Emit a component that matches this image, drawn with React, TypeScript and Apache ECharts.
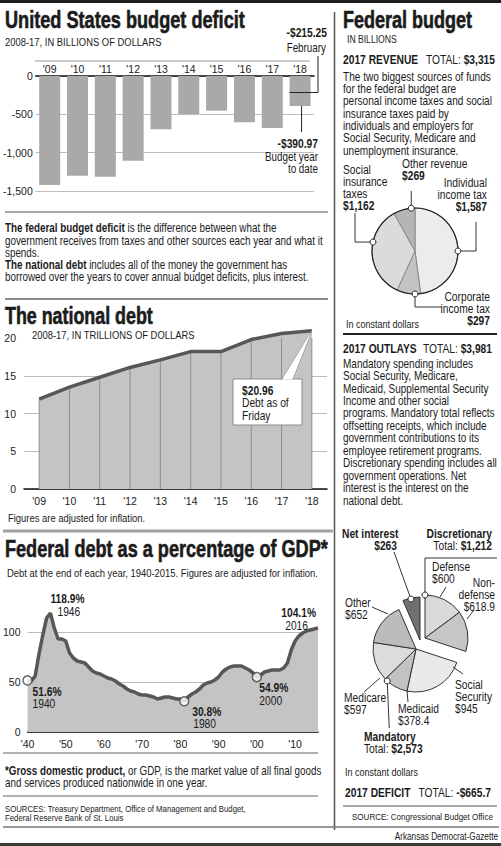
import React, { useEffect, useRef } from "react";
import * as echarts from "echarts";

// ---------------- DATA ----------------
const deficitYears = ["'09", "'10", "'11", "'12", "'13", "'14", "'15", "'16", "'17", "'18"];
const deficitValues = [-1422, -1300, -1313, -1104, -696, -496, -452, -604, -678, -390.97];
const deficitFebruary = -215.25;
const deficitTicks = { min: -1500, max: 0, step: 500 };

const debtYears = ["'09", "'10", "'11", "'12", "'13", "'14", "'15", "'16", "'17", "'18"];
const debtValues = [11.9, 13.5, 14.8, 16.1, 17.1, 18.2, 18.2, 19.8, 20.6, 20.96];
const debtTicks = { min: 0, max: 20, step: 5 };

const gdpPoints: [number, number][] = [
  [1940, 51.6], [1941, 51], [1942, 56], [1943, 78], [1944, 97], [1945, 114], [1946, 118.9],
  [1947, 104], [1948, 93], [1949, 93], [1950, 91], [1951, 79], [1952, 74], [1953, 71],
  [1954, 70], [1955, 69], [1956, 65], [1957, 61], [1958, 59], [1959, 58], [1960, 56],
  [1961, 54], [1962, 53], [1963, 51], [1964, 48], [1965, 46], [1966, 43], [1967, 41],
  [1968, 40], [1969, 38], [1970, 37], [1971, 37], [1972, 36], [1973, 35], [1974, 33],
  [1975, 34], [1976, 35], [1977, 35], [1978, 34], [1979, 33], [1980, 33], [1981, 30.8],
  [1982, 35], [1983, 38], [1984, 40], [1985, 43], [1986, 47], [1987, 49], [1988, 50],
  [1989, 52], [1990, 55], [1991, 60], [1992, 63], [1993, 65], [1994, 66], [1995, 66],
  [1996, 66], [1997, 64], [1998, 62], [1999, 59], [2000, 54.9], [2001, 57], [2002, 60],
  [2003, 61], [2004, 62], [2005, 62], [2006, 62], [2007, 64], [2008, 69], [2009, 82],
  [2010, 91], [2011, 96], [2012, 99], [2013, 101], [2014, 102], [2015, 103], [2016, 104.1],
];
const gdpNotePoints: [number, number][] = [[1940, 51.6], [1946, 118.9], [1981, 30.8], [2000, 54.9], [2016, 104.1]];
const gdpNoteYears = ["1940", "1946", "1980", "2000", "2016"];
const gdpXTicks = { min: 1940, max: 2016, step: 10 };
const gdpYTicks = { min: 0, max: 100, step: 50 };

const revenueNames = ["Individual income tax", "Corporate income tax", "Social insurance taxes", "Other revenue"];
const revenueLabelLines = [["Individual", "income tax"], ["Corporate", "income tax"], ["Social", "insurance", "taxes"], ["Other revenue"]];
const revenueValues = [1587, 297, 1162, 269];
const revenueTotal = 3315;

const outlayNames = ["Defense", "Non-defense", "Social Security", "Medicaid", "Medicare", "Other", "Net interest"];
const outlayLabelLines = [["Defense"], ["Non-", "defense"], ["Social", "Security"], ["Medicaid"], ["Medicare"], ["Other"], ["Net interest"]];
const outlayValues = [600, 618.9, 945, 378.4, 597, 652, 263];
const outlayGroups = ["disc", "disc", "mand", "mand", "mand", "mand", "int"];
const outlaysTotal = 3981;
const mandatoryTotal = 2573;
const discretionaryTotal = 1212;
const deficitTotal = -665.7;

// ---------------- STYLE ----------------
const FONT = '"Liberation Sans", Arial, Helvetica, sans-serif';
const COND = 0.82; // narrow look: Arial metrics condensed horizontally
const INK = "#1b1b1b";
const revenueColors = ["#ececec", "#c3c3c3", "#dbdbdb", "#b5b5b5"];
const outlayColors = ["#d9d9d9", "#c6c6c6", "#e9e9e9", "#c2c2c2", "#dcdcdc", "#bcbcbc", "#707070"];

const fmtMoney = (v: number) => {
  const s = "$" + Math.abs(v).toLocaleString("en-US", { maximumFractionDigits: 2 });
  return v < 0 ? "-" + s : s;
};

let measureCtx: CanvasRenderingContext2D | null = null;
function measure(text: string, font: string) {
  if (!measureCtx) measureCtx = document.createElement("canvas").getContext("2d");
  if (!measureCtx) return 0;
  measureCtx.font = font;
  return measureCtx.measureText(text).width;
}

function T(x: number, y: number, text: string, o: any = {}) {
  const size = o.size ?? 12;
  const weight = o.bold ? "bold" : "normal";
  let scaleX = o.scale ?? COND;
  if (o.fit) {
    const w = measure(text, `${weight} ${size}px ${FONT}`);
    if (w > 0) scaleX = o.fit / w;
  }
  const align = o.align ?? "left";
  const style: any = {
    text,
    fill: o.fill ?? INK,
    fontSize: size,
    fontFamily: FONT,
    fontWeight: weight,
    align,
    verticalAlign: "middle",
    textAlign: align,
    textVerticalAlign: "middle",
    rich: { b: { fontWeight: "bold", fontSize: size, fontFamily: FONT, fill: o.fill ?? INK } },
  };
  if (o.stroke) {
    style.stroke = o.fill ?? INK;
    style.lineWidth = o.stroke;
  }
  return { type: "text", x, y, z: 110, silent: true, scaleX, style };
}
const rect = (x: number, y: number, w: number, h: number, fill: string, stroke?: string) => ({
  type: "rect", z: 100, silent: true, shape: { x, y, width: w, height: h },
  style: stroke ? { fill, stroke, lineWidth: 1 } : { fill },
});
const ln = (x1: number, y1: number, x2: number, y2: number, stroke = "#333", w = 1) => ({
  type: "line", z: 101, silent: true, shape: { x1, y1, x2, y2 }, style: { stroke, lineWidth: w },
});
const pl = (points: number[][], stroke = "#333", w = 1) => ({
  type: "polyline", z: 101, silent: true, shape: { points }, style: { stroke, lineWidth: w, fill: "none" },
});
const dot = (x: number, y: number, r = 3) => ({
  type: "circle", z: 105, silent: true, shape: { cx: x, cy: y, r }, style: { fill: "#fff", stroke: "#222", lineWidth: 1 },
});
const polar = (c: number[], r: number, deg: number) => [
  c[0] + r * Math.sin((deg * Math.PI) / 180),
  c[1] - r * Math.cos((deg * Math.PI) / 180),
];

// pie geometry
const REV_C = [415, 251];
const REV_R = 43;
const MAND_C = [416, 649];
const DISC_C = [425, 638];
const INT_C = [420, 640];
const OUT_R = 43;

function baseGraphics() {
  const g: any[] = [];
  // rules
  g.push(rect(0, 0, 501, 3, "#1e1e1e"));
  g.push(rect(0, 843, 501, 3, "#3a3a3a"));
  g.push(ln(334.5, 12, 334.5, 830, "#555", 1.5));
  g.push(ln(5, 212, 328, 212, "#8a8a8a", 1.5));
  g.push(ln(5, 299, 328, 299, "#666", 1.5));
  g.push(ln(3, 531, 333, 531, "#a0a0a0", 3));
  g.push(ln(3, 753, 318, 753, "#999", 1.5));
  g.push(ln(3, 796, 318, 796, "#999", 1.5));
  g.push(ln(3, 827, 499, 827, "#777", 1.5));
  g.push(ln(343, 334, 497, 334, "#222", 2));
  g.push(ln(343, 806, 497, 806, "#888", 1.5));
  g.push(ln(35, 61, 310, 61, "#9a9a9a", 1.2));

  // ---- left column texts ----
  g.push(T(5, 20, "United States budget deficit", { bold: true, size: 23, fit: 240, stroke: 0.6 }));
  g.push(T(5, 42, "2008-17, IN BILLIONS OF DOLLARS", { size: 11.5 }));
  g.push(T(327, 33, fmtMoney(deficitFebruary), { bold: true, size: 12.5, align: "right" }));
  g.push(T(326, 48, "February", { size: 12, align: "right" }));
  g.push(T(318, 144, fmtMoney(deficitValues[9]), { bold: true, size: 12.5, align: "right" }));
  g.push(T(318, 157, "Budget year", { size: 12, align: "right" }));
  g.push(T(318, 169, "to date", { size: 12, align: "right" }));

  const para1 = [
    "{b|The federal budget deficit} is the difference between what the",
    "government receives from taxes and other sources each year and what it",
    "spends.",
    "{b|The national debt} includes all of the money the government has",
    "borrowed over the years to cover annual budget deficits, plus interest.",
  ];
  para1.forEach((s, i) => g.push(T(5, 228 + i * 12.2, s, { size: 12 })));

  g.push(T(5, 316, "The national debt", { bold: true, size: 23, fit: 148, stroke: 0.6 }));
  g.push(T(32, 335, "2008-17, IN TRILLIONS OF DOLLARS", { size: 11.5 }));

  // debt callout box (pointer added after layout)
  g.push(rect(233, 379, 69, 46, "#fff", "#8a8a8a"));
  g.push(T(242, 391, "{b|" + fmtMoney(debtValues[9]) + "}", { size: 12.5 }));
  g.push(T(242, 403, "Debt as of", { size: 12.5 }));
  g.push(T(242, 415.5, "Friday", { size: 12.5 }));

  g.push(T(8, 518, "Figures are adjusted for inflation.", { size: 11.5 }));
  g.push(T(5, 549, "Federal debt as a percentage of GDP*", { bold: true, size: 23, fit: 323, stroke: 0.6 }));
  g.push(T(7, 573, "Debt at the end of each year, 1940-2015. Figures are adjusted for inflation.", { size: 11.5 }));
  g.push(T(5, 771, "{b|*Gross domestic product,} or GDP, is the market value of all final goods", { size: 12 }));
  g.push(T(5, 783, "and services produced nationwide in one year.", { size: 12 }));
  g.push(T(5, 809, "SOURCES: Treasury Department, Office of Management and Budget,", { size: 9.5 }));
  g.push(T(5, 818, "Federal Reserve Bank of St. Louis", { size: 9.5 }));
  g.push(T(498, 837, "Arkansas Democrat-Gazette", { size: 10, align: "right" }));

  // ---- right column ----
  g.push(T(343, 20, "Federal budget", { bold: true, size: 23, fit: 129, stroke: 0.6 }));
  g.push(T(347, 39, "IN BILLIONS", { size: 10.5 }));
  g.push(T(343, 60, "2017 REVENUE", { bold: true, size: 12.5 }));
  g.push(T(495, 60, "TOTAL: {b|" + fmtMoney(revenueTotal) + "}", { size: 12.5, align: "right" }));
  const para2 = [
    "The two biggest sources of funds",
    "for the federal budget are",
    "personal income taxes and social",
    "insurance taxes paid by",
    "individuals and employers for",
    "Social Security, Medicare and",
    "unemployment insurance.",
  ];
  para2.forEach((s, i) => g.push(T(343, 76.5 + i * 12.3, s, { size: 12.3 })));

  // revenue pie labels
  const revLabelPos = [
    { x: 487, y: 183, align: "right" },
    { x: 490, y: 297, align: "right" },
    { x: 343, y: 170, align: "left" },
    { x: 402, y: 164, align: "left" },
  ];
  revenueLabelLines.forEach((lines, i) => {
    const p = revLabelPos[i];
    lines.forEach((s, j) => g.push(T(p.x, p.y + j * 11.7, s, { size: 12.5, align: p.align })));
    g.push(T(p.x, p.y + lines.length * 11.9, fmtMoney(revenueValues[i]), { size: 12.5, bold: true, align: p.align }));
  });
  // revenue pie outline + leaders
  g.push({ type: "circle", z: 100, silent: true, shape: { cx: REV_C[0], cy: REV_C[1], r: REV_R }, style: { fill: "none", stroke: "#222", lineWidth: 1.2 } });
  const aInd = polar(REV_C, REV_R, 90);
  const aCorp = polar(REV_C, REV_R, 180);
  const aSoc = polar(REV_C, REV_R, 282);
  const aOth = polar(REV_C, REV_R, 355);
  g.push(pl([aInd, [476, aInd[1]], [476, 222]], "#333", 1));
  g.push(pl([aCorp, [aCorp[0], 307], [442, 307]], "#333", 1));
  g.push(pl([aSoc, [355, aSoc[1]], [355, 213]], "#333", 1));
  g.push(pl([aOth, [aOth[0], 191]], "#333", 1));
  [aInd, aCorp, aSoc, aOth].forEach((p) => g.push(dot(p[0], p[1])));
  g.push(T(346, 324, "In constant dollars", { size: 11 }));

  // outlays
  g.push(T(343, 348.3, "2017 OUTLAYS", { bold: true, size: 12.5 }));
  g.push(T(492, 348.3, "TOTAL: {b|" + fmtMoney(outlaysTotal) + "}", { size: 12.5, align: "right" }));
  const para3 = [
    "Mandatory spending includes",
    "Social Security, Medicare,",
    "Medicaid, Supplemental Security",
    "Income and other social",
    "programs. Mandatory total reflects",
    "offsetting receipts, which include",
    "government contributions to its",
    "employee retirement programs.",
    "Discretionary spending includes all",
    "government operations. Net",
    "interest is the interest on the",
    "national debt.",
  ];
  para3.forEach((s, i) => g.push(T(343, 363.3 + i * 12.45, s, { size: 12.2 })));

  const outLabelPos = [
    { x: 432, y: 567, align: "left" },
    { x: 495, y: 583, align: "right" },
    { x: 455, y: 685, align: "left" },
    { x: 398, y: 708.5, align: "left" },
    { x: 344, y: 698, align: "left" },
    { x: 345, y: 603, align: "left" },
    { x: 342, y: 534, align: "left" },
  ];
  outlayLabelLines.forEach((lines, i) => {
    const p = outLabelPos[i];
    const isInt = outlayGroups[i] === "int";
    lines.forEach((s, j) => g.push(T(p.x, p.y + j * 11.6, s, { size: 12.5, bold: isInt, align: p.align })));
    const vx = isInt ? 397 : p.x;
    const va = isInt ? "right" : p.align;
    g.push(T(vx, p.y + lines.length * 12, fmtMoney(outlayValues[i]), { size: 12.5, bold: isInt, align: va }));
  });
  g.push(T(492, 534, "Discretionary", { size: 12.5, bold: true, align: "right" }));
  g.push(T(492, 545.5, "Total: {b|" + fmtMoney(discretionaryTotal) + "}", { size: 12.5, align: "right" }));
  g.push(T(364, 737, "Mandatory", { size: 12.5, bold: true }));
  g.push(T(364, 749, "Total: {b|" + fmtMoney(mandatoryTotal) + "}", { size: 12.5 }));

  // outlay leaders
  const aInt = polar(INT_C, OUT_R - 1, 347.5);
  g.push(ln(aInt[0], aInt[1], 394, 552, "#333", 1));
  const aDisc = polar(DISC_C, OUT_R, 0);
  g.push(pl([aDisc, [aDisc[0], 558], [497, 558]], "#333", 1));
  const aMand = polar(MAND_C, OUT_R, 222);
  g.push(ln(aMand[0], aMand[1], aMand[0] + 2, 728, "#333", 1));
  g.push(ln(440, 597, 446, 587, "#333", 1)); // defense
  g.push(ln(467, 619, 474, 610, "#333", 1)); // non-defense
  g.push(ln(372, 607, 388, 614, "#333", 1)); // other
  g.push(ln(364, 692, 380, 678, "#333", 1)); // medicare
  g.push(ln(407, 690, 408, 702, "#333", 1)); // medicaid
  g.push(ln(453, 667, 463, 674, "#333", 1)); // social security
  [aInt, aDisc, aMand].forEach((p) => g.push(dot(p[0], p[1])));

  g.push(T(345, 772, "In constant dollars", { size: 11 }));
  g.push(T(345, 793, "2017 DEFICIT", { bold: true, size: 12.5 }));
  g.push(T(491, 793, "TOTAL: {b|" + fmtMoney(deficitTotal) + "}", { size: 12.5, align: "right" }));
  g.push(T(352, 817, "SOURCE: Congressional Budget Office", { size: 9.8 }));
  return g;
}

function outlayPie(group: string, center: number[]) {
  return {
    type: "pie",
    center,
    radius: OUT_R,
    startAngle: 90,
    clockwise: true,
    silent: true,
    z: 3,
    label: { show: false },
    labelLine: { show: false },
    emphasis: { disabled: true },
    data: outlayNames.map((name, i) => ({
      name,
      value: outlayValues[i],
      itemStyle:
        outlayGroups[i] === group
          ? { color: outlayColors[i], borderColor: "#333", borderWidth: 1 }
          : { color: "rgba(0,0,0,0)", borderWidth: 0 },
    })),
  };
}

function buildOption(graphic: any[]) {
  const axisText = { color: INK, fontSize: 10.5, fontFamily: FONT };
  const split = { show: true, lineStyle: { color: "#bcbcbc", width: 1 } };
  return {
    animation: false,
    backgroundColor: "#ffffff",
    textStyle: { fontFamily: FONT },
    grid: [
      { left: 35, top: 76, width: 279, height: 115 },
      { left: 24, top: 338, width: 303, height: 151 },
      { left: 27, top: 632, width: 291, height: 100 },
    ],
    xAxis: [
      {
        gridIndex: 0, type: "category", data: deficitYears, position: "top",
        axisLine: { show: true, onZero: false, lineStyle: { color: "#111", width: 1.5 } },
        axisTick: { show: false }, splitLine: { show: false },
        axisLabel: { ...axisText, margin: 2 },
      },
      {
        gridIndex: 1, type: "category", data: debtYears, boundaryGap: true,
        axisLine: { show: true, onZero: false, lineStyle: { color: "#111", width: 1.5 } },
        axisTick: { show: false }, splitLine: { show: false },
        axisLabel: { ...axisText, margin: 6 },
      },
      {
        gridIndex: 2, type: "value", min: gdpXTicks.min, max: gdpXTicks.max, interval: gdpXTicks.step,
        axisLine: { show: true, onZero: false, lineStyle: { color: "#111", width: 1.5 } },
        axisTick: { show: false }, splitLine: { show: false },
        axisLabel: {
          ...axisText, margin: 6, showMaxLabel: false,
          formatter: (v: number) => (v % 10 === 0 ? "'" + String(v).slice(2) : ""),
        },
      },
    ],
    yAxis: [
      {
        gridIndex: 0, type: "value", min: deficitTicks.min, max: deficitTicks.max, interval: deficitTicks.step,
        axisLine: { show: false }, axisTick: { show: false }, splitLine: split,
        axisLabel: { ...axisText, margin: 3, formatter: (v: number) => v.toLocaleString("en-US") },
      },
      {
        gridIndex: 1, type: "value", min: debtTicks.min, max: debtTicks.max, interval: debtTicks.step,
        axisLine: { show: false }, axisTick: { show: false },
        splitLine: { ...split, showMaxLine: false },
        axisLabel: { ...axisText, margin: 8 },
      },
      {
        gridIndex: 2, type: "value", min: gdpYTicks.min, max: gdpYTicks.max, interval: gdpYTicks.step,
        axisLine: { show: false }, axisTick: { show: false }, splitLine: split,
        axisLabel: { ...axisText, margin: 7 },
      },
    ],
    series: [
      {
        type: "bar", xAxisIndex: 0, yAxisIndex: 0, data: deficitValues, barWidth: 21, z: 2,
        itemStyle: { color: "#a9a9a9" }, silent: true,
      },
      {
        type: "line", xAxisIndex: 1, yAxisIndex: 1, data: debtValues, symbol: "none", clip: false, z: 1,
        lineStyle: { width: 0 }, areaStyle: { color: "#c4c4c4", opacity: 1 }, silent: true,
      },
      {
        type: "bar", xAxisIndex: 1, yAxisIndex: 1, data: debtValues, barWidth: 1, z: 2,
        itemStyle: { color: "#8e8e8e" }, silent: true,
      },
      {
        type: "line", xAxisIndex: 1, yAxisIndex: 1, data: debtValues, symbol: "none", clip: false, z: 3,
        lineStyle: { color: "#575757", width: 3.5 }, silent: true,
      },
      {
        type: "scatter", xAxisIndex: 1, yAxisIndex: 1, data: [[debtYears[9], debtValues[9]]], z: 200,
        symbolSize: 9, itemStyle: { color: "#fff", borderColor: "#444", borderWidth: 1.5 }, silent: true,
      },
      {
        type: "line", xAxisIndex: 2, yAxisIndex: 2, data: gdpPoints, symbol: "none", clip: false, z: 1,
        lineStyle: { width: 0 }, areaStyle: { color: "#c4c4c4", opacity: 1 }, silent: true,
      },
      {
        type: "line", xAxisIndex: 2, yAxisIndex: 2, data: gdpPoints, symbol: "none", clip: false, z: 3,
        lineStyle: { color: "#575757", width: 3.5 }, silent: true,
      },
      {
        type: "scatter", xAxisIndex: 2, yAxisIndex: 2, data: gdpNotePoints, z: 200,
        symbolSize: 9, itemStyle: { color: "#fff", borderColor: "#444", borderWidth: 1.5 }, silent: true,
      },
      {
        type: "pie", center: REV_C, radius: REV_R, startAngle: 90, clockwise: true, silent: true, z: 3,
        label: { show: false }, labelLine: { show: false }, emphasis: { disabled: true },
        itemStyle: { borderColor: "#8a8a8a", borderWidth: 1 },
        data: revenueNames.map((name, i) => ({ name, value: revenueValues[i], itemStyle: { color: revenueColors[i] } })),
      },
      outlayPie("mand", MAND_C),
      outlayPie("disc", DISC_C),
      outlayPie("int", INT_C),
    ],
    graphic,
  };
}

// label offsets for GDP notes (relative to the data point pixel)
const gdpNoteStyle = [
  { dx1: 5, dx2: 5, dy1: 11, dy2: 23.5, align: "left" },
  { dx1: 0, dx2: 7, dy1: -14.5, dy2: -1.8, align: "left" },
  { dx1: 8, dx2: 9, dy1: 10, dy2: 22.5, align: "left" },
  { dx1: 2.5, dx2: 2.5, dy1: 10.3, dy2: 23.5, align: "left" },
  { dx1: -2, dx2: -10, dy1: -15.7, dy2: -2.5, align: "right" },
];

export default function App() {
  const ref = useRef<HTMLDivElement>(null);
  useEffect(() => {
    if (!ref.current) return;
    const chart = echarts.init(ref.current, undefined, { renderer: "svg" });
    const base = baseGraphics();
    chart.setOption(buildOption(base));

    const px = (gi: number, p: any[]) => chart.convertToPixel({ gridIndex: gi } as any, p) as unknown as number[];
    const extra: any[] = [];
    // deficit annotations
    const [bx, febY] = px(0, [deficitYears[9], deficitFebruary]);
    const [, botY] = px(0, [deficitYears[9], deficitValues[9]]);
    extra.push(pl([[bx - 10.5, febY], [318, febY], [318, 56]], "#222", 1));
    extra.push(ln(bx + 1.5, botY, bx + 1.5, 132, "#222", 1));
    // debt callout pointer
    const [ax, ay] = px(1, [debtYears[9], debtValues[9]]);
    extra.push({ type: "polygon", z: 102, silent: true, shape: { points: [[282, 379.6], [292.5, 379.6], [ax, ay]] }, style: { fill: "#fff" } });
    extra.push(ln(282, 379.5, ax, ay, "#7a7a7a", 1));
    extra.push(ln(292.5, 379.5, ax, ay, "#7a7a7a", 1));
    // GDP note labels
    gdpNotePoints.forEach((p, i) => {
      const [x, y] = px(2, p);
      const s = gdpNoteStyle[i];
      extra.push(T(x + s.dx1, y + s.dy1, p[1].toFixed(1) + "%", { bold: true, size: 12.5, align: s.align }));
      extra.push(T(x + s.dx2, y + s.dy2, gdpNoteYears[i], { size: 12.5, align: s.align }));
    });
    chart.setOption({ graphic: [...base, ...extra] });
    return () => chart.dispose();
  }, []);
  return (
    <div
      ref={ref}
      style={{ position: "absolute", left: 0, top: 0, width: 501, height: 846, background: "#fff" }}
    />
  );
}
